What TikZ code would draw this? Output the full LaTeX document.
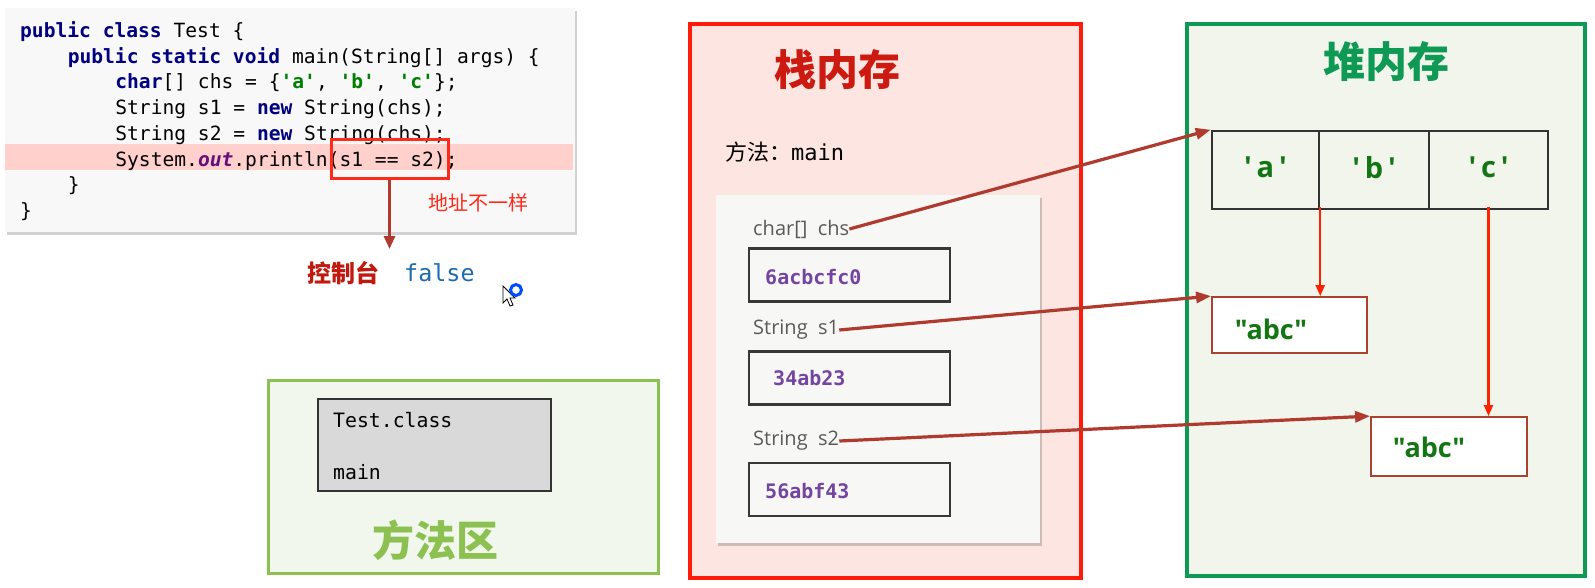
\documentclass[tikz,border=0pt]{standalone}
\usepackage{fontspec}
\setmonofont{DejaVu Sans Mono}
\newfontfamily\cjk{Noto Sans CJK SC}
\newfontfamily\lbl{Open Sans}
\usetikzlibrary{arrows.meta}
\usetikzlibrary{shadows}

\definecolor{kwnavy}{HTML}{000080}
\definecolor{litgreen}{HTML}{008000}
\definecolor{fldpurple}{HTML}{660E7A}
\definecolor{codebg}{HTML}{F7F8F7}
\definecolor{hlpink}{HTML}{FFD0CC}
\definecolor{cmpred}{HTML}{FF2A1A}
\definecolor{refbrown}{HTML}{B03A2E}
\definecolor{conred}{HTML}{C0190F}
\definecolor{resblue}{HTML}{1F6BB0}
\definecolor{methgreen}{HTML}{8CC152}
\definecolor{methfill}{HTML}{F1F7EC}
\definecolor{stackred}{HTML}{FF1A0A}
\definecolor{stackfill}{HTML}{FDE5E2}
\definecolor{stacktitle}{HTML}{CC1A10}
\definecolor{panelfill}{HTML}{F7F8F6}
\definecolor{valpurple}{HTML}{7444A0}
\definecolor{heapgreen}{HTML}{0E9A55}
\definecolor{heapfill}{HTML}{F2F5EC}
\definecolor{chargreen}{HTML}{137513}
\definecolor{strbrown}{HTML}{A8432F}
\definecolor{linkred}{HTML}{FF2200}

\newcommand\jkw[1]{\textcolor{kwnavy}{\bfseries #1}}
\newcommand\jlit[1]{\textcolor{litgreen}{\bfseries #1}}
\newcommand\jfld[1]{\textcolor{fldpurple}{\bfseries\itshape #1}}
\newcommand\sq{\XeTeXglyph\XeTeXcharglyph"0027\relax}
\newcommand\cellch[1]{\raisebox{5pt}{\sq\,#1\,\sq}}

\tikzset{
      code/.style={anchor=base west, inner sep=0, font=\ttfamily\fontsize{19.6}{22}\selectfont},
      codebox/.style={fill=codebg, draw=none, drop shadow={shadow xshift=2pt, shadow yshift=-3pt, opacity=.35}},
      hlrow/.style={fill=hlpink, draw=none},
      cmpframe/.style={draw=cmpred, line width=3},
      outarrow/.style={draw=refbrown, line width=3, -{Triangle[length=13pt,width=11pt]}},
      note/.style={text=cmpred, font=\cjk\fontsize{20}{22}\selectfont, inner sep=0},
      console/.style={text=conred, font=\cjk\bfseries\fontsize{24}{26}\selectfont, inner sep=0},
      result/.style={text=resblue, font=\ttfamily\fontsize{23.4}{26}\selectfont, inner sep=0},
      area/.style={line width=4},
      title/.style={font=\cjk\bfseries\fontsize{42}{44}\selectfont, inner sep=0},
      classbox/.style={fill=black!15, draw=black!80, line width=1.5},
      classtext/.style={anchor=west, inner sep=0, font=\ttfamily\fontsize{19.8}{22}\selectfont},
      panel/.style={fill=panelfill, draw=none, drop shadow={shadow xshift=2pt, shadow yshift=-3pt, opacity=.4}},
      varlabel/.style={anchor=west, inner sep=0, text=black!65, font=\lbl\fontsize{20}{22}\selectfont},
      slot/.style={draw=black!78, line width=2.5, minimum width=201pt, minimum height=53pt},
      slotval/.style={anchor=west, inner sep=0, text=valpurple, font=\ttfamily\bfseries\fontsize{20}{22}\selectfont},
      cell/.style={draw=black!80, line width=2.5, minimum height=78pt, text=chargreen,
            font=\lbl\bfseries\fontsize{29}{31}\selectfont},
      strbox/.style={draw=strbrown, line width=1.8, fill=white},
      strtext/.style={inner sep=0, text=chargreen, font=\lbl\bfseries\fontsize{27}{29}\selectfont},
      ref/.style={draw=refbrown, line width=3.2, -{Triangle[length=15pt,width=11pt]}},
      link/.style={draw=linkred, line width=2.2, -{Triangle[length=11pt,width=9pt]}},
}

\begin{document}
\begin{tikzpicture}[x=1pt,y=-1pt]
      \useasboundingbox[fill=white] (0,0) rectangle (1595,587);

      \node[codebox, minimum width=570pt, minimum height=224pt] (codebg) at (290,120) {};
      \node[hlrow, minimum width=568pt, minimum height=26pt] (hl) at (289,157) {};
      \node[code] (c1) at (20,37.5) {\jkw{public class} Test \{};
      \node[code] (c2) at (67.6,63.2) {\jkw{public static void} main(String[] args) \{};
      \node[code] (c3) at (115.2,88.9) {\jkw{char}[] chs = \{\jlit{'a'}, \jlit{'b'}, \jlit{'c'}\};};
      \node[code] (c4) at (115.2,114.6) {String s1 = \jkw{new} String(chs);};
      \node[code] (c5) at (115.2,140.3) {String s2 = \jkw{new} String(chs);};
      \node[code] (c6) at (115.2,166) {System.\jfld{out}.println(s1 == s2);};
      \node[code] (c7) at (67.6,191.7) {\}};
      \node[code] (c8) at (20,217.4) {\}};

      \node[cmpframe, minimum width=117pt, minimum height=39pt] (cmp) at (389.5,158.5) {};
      \coordinate (outtip) at (389.5,249);
      \draw[outarrow] (cmp.south) -- (outtip);
      \node[note] (diff) at (478,203) {地址不一样};
      \node[console] (con) at (343,273) {控制台};
      \node[result, anchor=west] (res) at (404,273) {false};

      \draw[fill=white, draw=black, line width=.8] (503,286) -- (503,303) -- (507,299) -- (510,306)
            -- (513,305) -- (510,298) -- (515,298) -- cycle;
      \draw[draw=blue!70!cyan, line width=3] (516,290) circle (5.5);

      \node[area, draw=methgreen, fill=methfill, line width=3, minimum width=390pt, minimum height=193pt] (meth) at (463,476.5) {};
      \node[classbox, minimum width=233pt, minimum height=92pt] (cls) at (434.5,445) {};
      \node[classtext] (clsname) at (333,420) {Test.class};
      \node[classtext] (clsmain) at (333,472) {main};
      \node[title, text=methgreen] (methtitle) at (435,540) {方法区};

      \node[area, draw=stackred, fill=stackfill, minimum width=391pt, minimum height=554pt] (stack) at (885.5,301) {};
      \node[title, text=stacktitle] (stacktitle) at (837.5,70) {栈内存};
      \node[anchor=west, inner sep=0, font=\fontsize{22}{24}\selectfont] (frame) at (725,152) {{\cjk 方法：}{\ttfamily main}};
      \node[panel, minimum width=324pt, minimum height=348pt] (pnl) at (878,369) {};
      \node[varlabel] (vchs) at (753,229) {char[]\ \ chs};
      \node[slot] (slotchs) at (849.5,275) {};
      \node[slotval] (valchs) at (765,277) {6acbcfc0};
      \node[varlabel] (vs1) at (753,330) {String\ \ s1};
      \node[slot] (slots1) at (849.5,378) {};
      \node[slotval] (vals1) at (773,378) {34ab23};
      \node[varlabel] (vs2) at (753,441) {String\ \ s2};
      \node[slot] (slots2) at (849.5,489.5) {};
      \node[slotval] (vals2) at (765,491) {56abf43};

      \node[area, draw=heapgreen, fill=heapfill, minimum width=398pt, minimum height=552pt] (heap) at (1386,300) {};
      \node[title, text=heapgreen] (heaptitle) at (1386.5,62) {堆内存};
      \node[cell, minimum width=107pt] (ca) at (1265.5,170) {\cellch{a}};
      \node[cell, minimum width=110pt] (cb) at (1374,170) {\cellch{b}};
      \node[cell, minimum width=119pt] (cc) at (1488.5,170) {\cellch{c}};
      \node[strbox, minimum width=155pt, minimum height=56pt] (str1) at (1289.5,325) {};
      \node[strtext] (str1txt) at (1271,329) {"abc"};
      \node[strbox, minimum width=156pt, minimum height=59pt] (str2) at (1449,446.5) {};
      \node[strtext] (str2txt) at (1429,447) {"abc"};

      \draw[ref] (vchs.east) -- (ca.north west);
      \draw[ref] (vs1.east) -- (str1.north west);
      \draw[ref] (vs2.east) -- (str2.north west);

      \draw[link] ([yshift=3pt]ca.south east) -- (ca.south east |- str1.north);
      \draw[link] ([yshift=3pt]cc.south) -- (cc.south |- str2.north);

\end{tikzpicture}
\end{document}
